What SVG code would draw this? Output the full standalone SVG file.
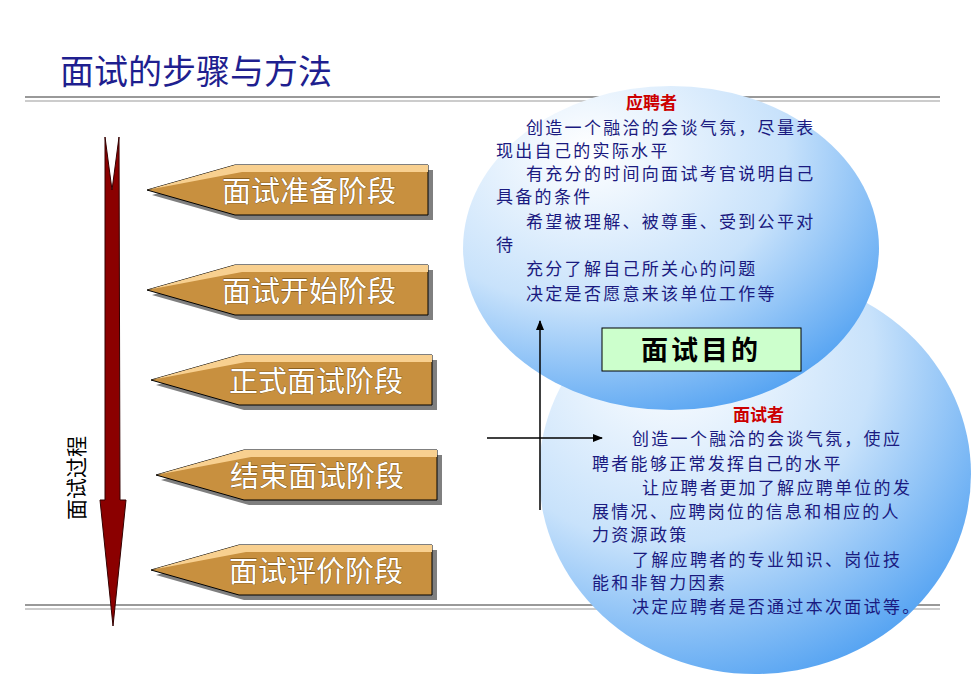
<svg xmlns="http://www.w3.org/2000/svg" width="977" height="676" viewBox="0 0 977 676">
<style>
.cjk{font-family:"Liberation Sans","Noto Sans CJK SC",sans-serif}
.body{font-size:17px;fill:#1a1a80;letter-spacing:2.3px}
.stage{font-size:29px;fill:#fff;font-family:"Noto Sans CJK SC",sans-serif;stroke:#5a3a08;stroke-width:0.6;paint-order:stroke}
.pen{fill:#c8903f;stroke:#000;stroke-width:1}
.sh{fill:#7f7f7f}
.hl{fill:#f8d090}
</style>
<defs>
<radialGradient id="g" cx="0.3" cy="0.2" r="0.95">
<stop offset="0" stop-color="#ffffff"/><stop offset="0.5" stop-color="#c8e2fb"/><stop offset="1" stop-color="#3d96f0"/>
</radialGradient>
<marker id="a" markerWidth="10" markerHeight="8" refX="9" refY="4" orient="auto" markerUnits="userSpaceOnUse"><path d="M0,0 L10,4 L0,8 Z" fill="#000"/></marker>
<g id="pen">
<path class="sh" d="M5,30 L93,5 L286,5 L286,55 L93,55 Z"/>
<path class="pen" d="M0,25 L88,0 L281,0 L281,50 L88,50 Z"/>
<path class="hl" d="M0,25 L88,0 L281,0 L281,7 L95,7 Z"/>
</g>
</defs>
<rect width="977" height="676" fill="#fff"/>
<text x="60" y="84" class="cjk" font-size="34" fill="#1f1f8f">面试的步骤与方法</text>
<g stroke="#999" stroke-width="2"><line x1="25" y1="97" x2="940" y2="97"/><line x1="25" y1="101" x2="940" y2="101" stroke="#ccc"/><line x1="25" y1="605" x2="940" y2="605"/><line x1="25" y1="609" x2="940" y2="609" stroke="#ccc"/></g>
<g id="timeline">
<path d="M105,137 L112,190 L119,137 L120,500 L126,500 L113,626 L100,500 L105,500 Z" fill="#8b0000" stroke="#300" stroke-width="1"/>
<text transform="translate(84,520) rotate(-90)" class="cjk" font-size="21" fill="#000">面试过程</text>
</g>
<g id="s1" transform="translate(147,165)"><use href="#pen"/><text x="75" y="37" class="stage">面试准备阶段</text></g>
<g id="s2" transform="translate(147,265)"><use href="#pen"/><text x="75" y="37" class="stage">面试开始阶段</text></g>
<g id="s3" transform="translate(151,355)"><use href="#pen"/><text x="78" y="37" class="stage">正式面试阶段</text></g>
<g id="s4" transform="translate(156,450)"><use href="#pen"/><text x="74" y="37" class="stage">结束面试阶段</text></g>
<g id="s5" transform="translate(151,545)"><use href="#pen"/><text x="78" y="37" class="stage">面试评价阶段</text></g>
<g id="bottomCircle"><ellipse cx="755" cy="474" rx="216" ry="200" fill="url(#g)"/></g>
<g id="topCircle"><ellipse cx="671" cy="248" rx="208" ry="162" fill="url(#g)"/></g>
<g id="applicant" class="cjk body">
<text x="626" y="109" font-weight="bold" style="fill:#cc0000;letter-spacing:0">应聘者</text>
<text x="526" y="134">创造一个融洽的会谈气氛，尽量表</text>
<text x="496" y="157">现出自己的实际水平</text>
<text x="526" y="180">有充分的时间向面试考官说明自己</text>
<text x="496" y="203">具备的条件</text>
<text x="526" y="228">希望被理解、被尊重、受到公平对</text>
<text x="496" y="251">待</text>
<text x="526" y="275">充分了解自己所关心的问题</text>
<text x="526" y="300">决定是否愿意来该单位工作等</text>
</g>
<g id="purpose"><rect x="602" y="328" width="199" height="43" fill="#ccffcc" stroke="#000"/><text x="701" y="360" text-anchor="middle" class="cjk" font-size="27" font-weight="bold" fill="#000" letter-spacing="3">面试目的</text></g>
<g id="interviewer" class="cjk body">
<text x="733" y="421" font-weight="bold" style="fill:#cc0000;letter-spacing:0">面试者</text>
<text x="632" y="445">创造一个融洽的会谈气氛，使应</text>
<text x="592" y="470">聘者能够正常发挥自己的水平</text>
<text x="642" y="494">让应聘者更加了解应聘单位的发</text>
<text x="592" y="518">展情况、应聘岗位的信息和相应的人</text>
<text x="592" y="541">力资源政策</text>
<text x="632" y="566">了解应聘者的专业知识、岗位技</text>
<text x="592" y="589">能和非智力因素</text>
<text x="632" y="613">决定应聘者是否通过本次面试等。</text>
</g>
<g id="connectors" stroke="#000" stroke-width="1.5" fill="none">
<line x1="540" y1="510" x2="540" y2="321" marker-end="url(#a)"/>
<line x1="487" y1="438" x2="602" y2="438" marker-end="url(#a)"/>
</g>
</svg>
